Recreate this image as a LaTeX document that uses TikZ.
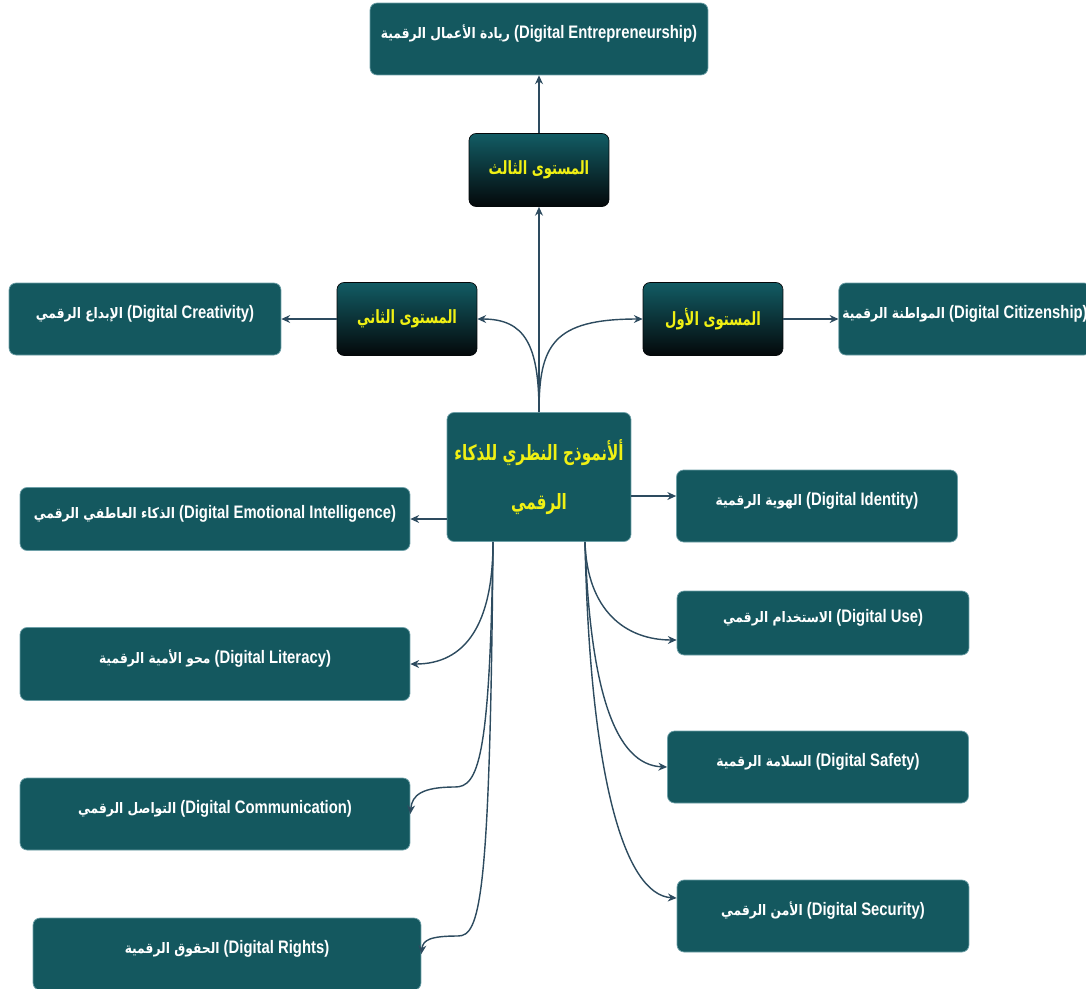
\documentclass[tikz,border=0pt]{standalone}
\usepackage{fontspec}
\setmainfont[FakeStretch=0.82]{Liberation Sans}
\newfontfamily\arabicfont[Script=Arabic, Scale=0.8, FakeStretch=0.85]{DejaVu Sans}
\newfontfamily\headfont[Script=Arabic, Scale=0.8, FakeStretch=0.72]{DejaVu Sans}
\TeXXeTstate=1
\usepackage{tikz}
\usetikzlibrary{arrows.meta, positioning, calc}

\definecolor{tealbox}{RGB}{20,88,95}
\definecolor{tealedge}{RGB}{110,160,168}
\definecolor{lvltop}{RGB}{18,92,100}
\definecolor{lvlbot}{RGB}{4,8,10}
\definecolor{linkcol}{RGB}{45,75,95}
\definecolor{headyellow}{RGB}{240,240,20}

% arabic name on the left, english name in brackets on the right
\newcommand{\duo}[2]{{\arabicfont\beginR #1\endR}\ (#2)}

\tikzset{
  box/.style={draw=tealedge, line width=0.4pt, rectangle, rounded corners=4pt, inner sep=2pt, align=center},
  topic/.style={box, fill=tealbox, text=white, font=\bfseries\fontsize{10.3}{12}\selectfont,
    minimum height=1.44cm, text height=8pt, text depth=8.6pt},
  level/.style={box, draw=lvlbot, top color=lvltop, bottom color=lvlbot, text=headyellow,
    font=\headfont\bfseries\fontsize{13}{15}\selectfont, minimum width=2.8cm, minimum height=1.46cm},
  core/.style={box, fill=tealbox, text=headyellow, font=\headfont\bfseries\fontsize{15}{28}\selectfont,
    minimum width=3.68cm, minimum height=2.58cm},
  link/.style={-{Stealth[length=5pt, width=4.5pt]}, line width=0.8pt, draw=linkcol},
}

\begin{document}
\begin{tikzpicture}[x=0.02cm, y=-0.02cm]
  \useasboundingbox (0,0) rectangle (1086,988);
  \clip (0,0) rectangle (1086,988);
  \fill[white] (0,0) rectangle (1086,988);

  % levels
  \node[topic, minimum width=6.76cm] (ent) at (539,39) {\duo{ريادة الأعمال الرقمية}{Digital Entrepreneurship}};
  \node[level] (lvl3) at (539,170) {\beginR المستوى الثالث\endR};
  \node[level] (lvl2) at (407,319) {\beginR المستوى الثاني\endR};
  \node[level] (lvl1) at (713,319) {\beginR المستوى الأول\endR};
  \node[topic, minimum width=5.44cm] (crea) at (145,319) {\duo{الإبداع الرقمي}{Digital Creativity}};
  \node[topic, minimum width=5cm] (citi) at (965,319) {\duo{المواطنة الرقمية}{Digital Citizenship}};

  \node[core] (cen) at (539,477) {\beginR ألأنموذج النظري للذكاء\endR\\\beginR الرقمي\endR};

  % left column
  \node[topic, minimum width=7.8cm, minimum height=1.26cm] (emo) at (215,519) {\duo{الذكاء العاطفي الرقمي}{Digital Emotional Intelligence}};
  \node[topic, minimum width=7.8cm, minimum height=1.46cm] (lite) at (215,664) {\duo{محو الأمية الرقمية}{Digital Literacy}};
  \node[topic, minimum width=7.8cm] (comm) at (215,814) {\duo{التواصل الرقمي}{Digital Communication}};
  \node[topic, minimum width=7.76cm] (righ) at (227,954) {\duo{الحقوق الرقمية}{Digital Rights}};

  % right column
  \node[topic, minimum width=5.62cm] (iden) at (817,506) {\duo{الهوية الرقمية}{Digital Identity}};
  \node[topic, minimum width=5.84cm, minimum height=1.28cm] (use) at (823,623) {\duo{الاستخدام الرقمي}{Digital Use}};
  \node[topic, minimum width=6.02cm] (safe) at (818,767) {\duo{السلامة الرقمية}{Digital Safety}};
  \node[topic, minimum width=5.84cm] (secu) at (823,916) {\duo{الأمن الرقمي}{Digital Security}};

  \coordinate (stemL) at ([xshift=-0.92cm]cen.south);
  \coordinate (stemR) at ([xshift=0.92cm]cen.south);
  \coordinate (idin) at ([yshift=0.2cm]iden.west);
  \coordinate (usein) at ([yshift=-0.34cm]use.west);
  \coordinate (secin) at ([yshift=0.36cm]secu.west);

  \draw[link] (cen.north) -- (lvl3.south);
  \draw[link] (lvl3.north) -- (ent.south);
  \draw[link] (cen.north) .. controls (539,345) and (525,319) .. (lvl2.east);
  \draw[link] (cen.north) .. controls (539,345) and (553,319) .. (lvl1.west);
  \draw[link] (lvl2.west) -- (crea.east);
  \draw[link] (lvl1.east) -- (citi.west);

  \draw[link] (emo.east -| cen.west) -- (emo.east);
  \draw[link] (idin -| cen.east) -- (idin);

  \draw[link] (stemL) .. controls (493,625) and (465,664) .. (lite.east);
  \draw[link] (stemL) .. controls (490,760) and (478,787) .. (455,787) .. controls (422,787) and (412,795) .. (comm.east);
  \draw[link] (stemL) .. controls (490,900) and (480,936) .. (458,936) .. controls (430,936) and (423,940) .. (righ.east);

  \draw[link] (stemR) .. controls (587,610) and (625,640) .. (usein);
  \draw[link] (stemR) .. controls (590,690) and (615,765) .. (safe.west);
  \draw[link] (stemR) .. controls (590,780) and (625,895) .. (secin);
\end{tikzpicture}
\end{document}
